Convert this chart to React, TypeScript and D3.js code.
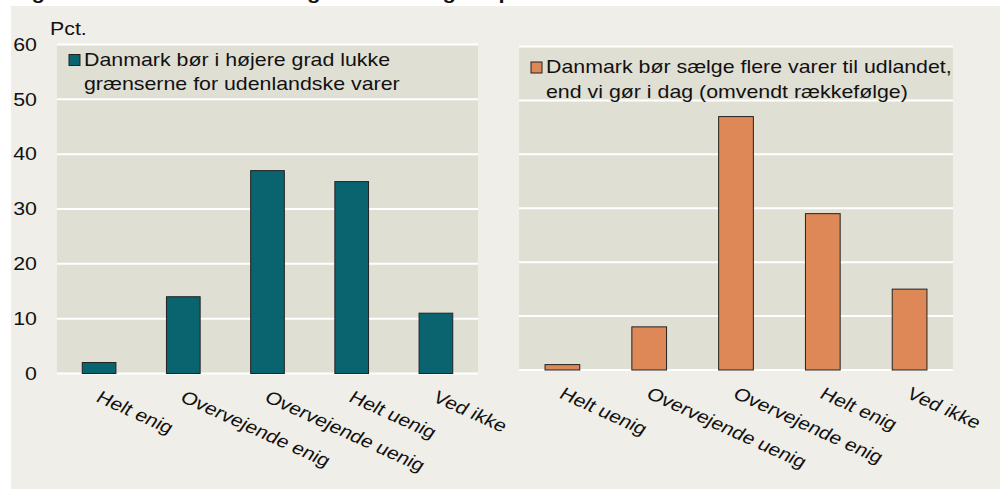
import * as d3 from 'd3';
import React from 'react';

// survey answers, pct.
const leftCategories = ['Helt enig', 'Overvejende enig', 'Overvejende uenig', 'Helt uenig', 'Ved ikke'];
const leftValues = [2, 14, 37, 35, 11];
const rightCategories = ['Helt uenig', 'Overvejende uenig', 'Overvejende enig', 'Helt enig', 'Ved ikke'];
const rightValues = [1, 8, 47, 29, 15];
const yTicks = [0, 10, 20, 30, 40, 50, 60];
const leftLegend = ['Danmark bør i højere grad lukke', 'grænserne for udenlandske varer'];
const rightLegend = ['Danmark bør sælge flere varer til udlandet,', 'end vi gør i dag (omvendt rækkefølge)'];
const title = 'Figur 2. Danskernes holdning til handel og eksport af varer';

const FONT = '"Liberation Sans", Arial, sans-serif';
const FS = 17.5;
// the original is a bit wider than tall, so text gets stretched horizontally
const SX = 1.22;

type STextProps = {
  x: number;
  y: number;
  anchor?: string;
  rotate?: number;
  dy?: string;
  size?: number;
  weight?: string;
  children: React.ReactNode;
};

const SText = ({ x, y, anchor = 'start', rotate = 0, dy, size = FS, weight, children }: STextProps) => (
  <text
    transform={`translate(${x},${y}) scale(${SX},1)${rotate ? ` rotate(${rotate})` : ''}`}
    textAnchor={anchor}
    dy={dy}
    fontSize={size}
    fontWeight={weight}
    fill="#111"
  >
    {children}
  </text>
);

type PanelProps = {
  categories: string[];
  values: number[];
  legend: string[];
  color: string;
  left: number;
  right: number;
  top: number;
  bottom: number;
  legendX: number;
  legendY: number;
  showAxis?: boolean;
};

const Panel = ({ categories, values, legend, color, left, right, top, bottom, legendX, legendY, showAxis }: PanelProps) => {
  const x = d3.scaleBand<string>().domain(categories).range([left, right]).paddingInner(0.6).paddingOuter(0.3);
  const y = d3.scaleLinear([0, 60], [bottom, top]);

  return (
    <g>
      <rect x={left} y={top} width={right - left} height={bottom - top} fill="#e0dfd4" />
      {yTicks.map((t) => (
        <line key={t} x1={left} x2={right} y1={y(t)} y2={y(t)} stroke="#fff" strokeWidth={2} />
      ))}
      {showAxis &&
        yTicks.map((t) => (
          <SText key={t} x={37} y={y(t)} dy="0.36em" anchor="end">
            {t}
          </SText>
        ))}
      {values.map((v, i) => (
        <rect
          key={i}
          x={x(categories[i])}
          y={y(v)}
          width={x.bandwidth()}
          height={y(0) - y(v)}
          fill={color}
          stroke="#222"
          strokeWidth={1}
        />
      ))}
      {categories.map((c) => (
        <SText key={c} x={(x(c) ?? 0) + x.bandwidth() / 2 + 4} y={bottom + 15} rotate={29} dy="0.8em">
          {c}
        </SText>
      ))}
      {/* legend */}
      <rect x={legendX} y={legendY - 11} width={11} height={11} fill={color} stroke="#222" strokeWidth={1} />
      {legend.map((l, i) => (
        <SText key={i} x={legendX + 15} y={legendY + i * 24.5}>
          {l}
        </SText>
      ))}
    </g>
  );
};

export default function App() {
  return (
    <svg
      width={1000}
      height={490}
      style={{ position: 'absolute', left: 0, top: 0, fontFamily: FONT }}
    >
      <rect x={0} y={0} width={1000} height={490} fill="#fff" />
      <SText x={12} y={-1.5} size={18} weight="bold">
        {title}
      </SText>
      <rect x={11} y={6} width={989} height={483} fill="#efeee8" />
      <SText x={50} y={35}>
        Pct.
      </SText>
      <Panel
        categories={leftCategories}
        values={leftValues}
        legend={leftLegend}
        color="#0a6470"
        left={57}
        right={478}
        top={44.5}
        bottom={373.5}
        legendX={69}
        legendY={65.5}
        showAxis
      />
      <Panel
        categories={rightCategories}
        values={rightValues}
        legend={rightLegend}
        color="#de8858"
        left={519}
        right={953}
        top={46.5}
        bottom={370}
        legendX={531}
        legendY={73}
      />
    </svg>
  );
}
